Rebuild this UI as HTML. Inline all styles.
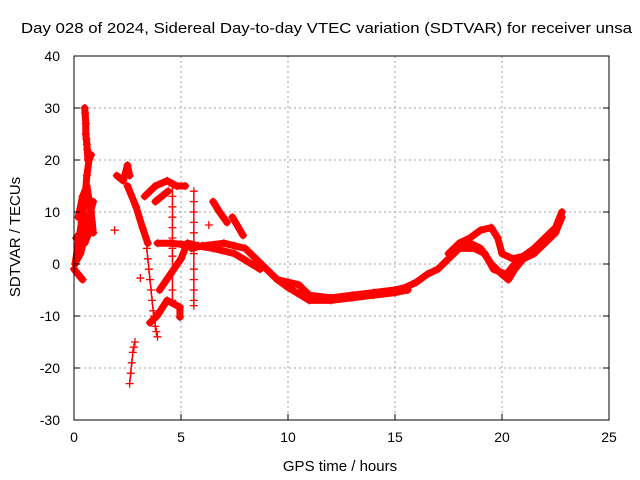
<!DOCTYPE html>
<html><head><meta charset="utf-8"><style>
body{margin:0;background:#fff;}
svg{display:block;font-family:"Liberation Sans",sans-serif;}
</style></head><body>
<svg id="chart" width="640" height="480" viewBox="0 0 640 480">
<text x="21" y="33" font-size="15" textLength="611" lengthAdjust="spacingAndGlyphs">Day 028 of 2024, Sidereal Day-to-day VTEC variation (SDTVAR) for receiver unsa</text>
<text x="340" y="471" font-size="15" text-anchor="middle">GPS time / hours</text>
<text transform="translate(20,237) rotate(-90)" font-size="15" text-anchor="middle">SDTVAR / TECUs</text>
<g id="grid"></g><g id="marks"></g><g id="axes"></g>
</svg>
<script>
const xTicks=[0,5,10,15,20,25];
const yTicks=[-30,-20,-10,0,10,20,30,40];
const traceHours=[
[5.5,6,7,7.5,8,8.5,9,9.5,10,10.5,11,12,13,14,15,15.5,16,16.5,17,17.5,18,18.5,19,19.5,20,20.3,20.6,21,21.5,22,22.5,22.8],
[17.5,18,18.5,19,19.5,19.8,20,20.5,21,21.5,22,22.5,22.8],
[18,18.7,19.2,19.6,20.2,20.6],
[9.5,10,11,12,13,14,15,15.6],
[0.5,0.52,0.55,0.55,0.58,0.6,0.62,0.65],
[0.05,0.2,0.35,0.5,0.6,0.7,0.8],
[0.1,0.3,0.5,0.7,0.9],
[0,0.2,0.4],
[2.0,2.3,2.5,2.6],
[2.5,2.9,3.2,3.45],
[3.3,3.8,4.35,4.8,5.2],
[3.8,4.1,4.4],
[4.6,4.6,4.6,4.6,4.6,4.6,4.6,4.6,4.6,4.6],
[5.6,5.6,5.6,5.6,5.6,5.6,5.6,5.6,5.6,5.6,5.6,5.6],
[3.9,4.5,5.0,5.6,6.5,7.5,8.7],
[4.0,4.5,5.0,5.3,5.8],
[3.55,3.88,4.35,4.95,4.95],
[3.4,3.45,3.5,3.55,3.6,3.65,3.7,3.75,3.8,3.85,3.9],
[2.6,2.65,2.7,2.75,2.8,2.85],
[1.9],
[6.5,6.8,7.15],
[7.4,7.9],
[6.3],
[3.1],
[0.1,0.3,0.5,0.7,0.85],
[0.2,0.4,0.6,0.8,0.9]
];
const traceValues=[
[3,3.5,4,3.5,3,1,-1,-3,-3.5,-4,-6,-6.5,-6,-5.5,-5,-4.5,-3.5,-2,-1,1,3,4,3,0,-2,-3,-1,1,2,4,6,9],
[2,4,5,6.5,7,5,2,1,1.5,3,5,7,10],
[3,3,2,-1,-2,0],
[-3,-4.5,-7,-7,-6.5,-6,-5.5,-5],
[30,29,27,25,24,23,22,20],
[0,4,8,12,17,20,21],
[0.5,2,5,9,12],
[-1,-2,-3],
[17,16,19,17],
[15,11,7,4],
[13,15,16,15,15],
[12,13,14],
[15,13,11,9,7,5,3,1.5,-5,-7],
[14,12,10,8,6,4,2,-1,-3,-5,-7,-8],
[4,4,3.8,3.6,3,2,-1],
[-5,-2,1,4,3.5],
[-11.3,-10,-7,-8.3,-10.2],
[3,1,-1,-3,-5,-7,-9,-10,-12,-13,-14],
[-23,-21,-19,-17,-16,-15],
[6.5],
[12,10,8],
[9,5.5],
[7.5],
[-2.7],
[5,6,4,6,8],
[9,13,15,10,6]
];
const thinTraces=[12,13,17,18];
const NS="http://www.w3.org/2000/svg";
const L=74,R=609,T=56,B=420;
function X(h){return L+(h-0)/(25-0)*(R-L);}
function Y(v){return B-(v+30)/(70)*(B-T);}
function mk(t,a,p){const e=document.createElementNS(NS,t);for(const k in a)e.setAttribute(k,a[k]);p.appendChild(e);return e;}
const grid=document.getElementById('grid'),axes=document.getElementById('axes'),marks=document.getElementById('marks');
xTicks.forEach(t=>{
 if(t>0&&t<25){const g=mk('line',{x1:X(t),x2:X(t),y1:T,y2:B,stroke:'#a0a0a0','stroke-dasharray':'2,3'},grid);
 }
 const tk=mk('line',{x1:X(t),x2:X(t),y1:B,y2:B-6,stroke:'#000'},axes);
 
 const tl=mk('text',{x:X(t),y:B+22,'font-size':14,'text-anchor':'middle'},axes);tl.textContent=t;
 
});
yTicks.forEach(t=>{
 if(t>-30&&t<40){const g=mk('line',{x1:L,x2:R,y1:Y(t),y2:Y(t),stroke:'#a0a0a0','stroke-dasharray':'2,3'},grid);
 }
 const tk=mk('line',{x1:L,x2:L+6,y1:Y(t),y2:Y(t),stroke:'#000'},axes);
 
 const tk2=mk('line',{x1:R,x2:R-6,y1:Y(t),y2:Y(t),stroke:'#000'},axes);
 
 const tl=mk('text',{x:L-14,y:Y(t)+5,'font-size':14,'text-anchor':'end'},axes);tl.textContent=t;
 
});
const fr=mk('rect',{x:L,y:T,width:R-L,height:B-T,fill:'none',stroke:'#000'},axes);

traceHours.forEach((hs,i)=>{
 const vs=traceValues[i];
 const thin=thinTraces.includes(i);
 const g=mk('g',{},marks);
 
 if(hs.length>1){
  const pl=mk('polyline',{points:hs.map((h,j)=>X(h)+','+Y(vs[j])).join(' '),fill:'none',stroke:'#f00','stroke-width':thin?1.5:7,'stroke-linejoin':'round','stroke-linecap':'round'},g);
  
 }
 hs.forEach((h,j)=>{
  const x=X(h),y=Y(vs[j]);
  const p=mk('path',{d:`M${x-4},${y}H${x+4}M${x},${y-4}V${y+4}`,stroke:'#f00','stroke-width':1.3},g);
  
 });
});
</script>
</body></html>
